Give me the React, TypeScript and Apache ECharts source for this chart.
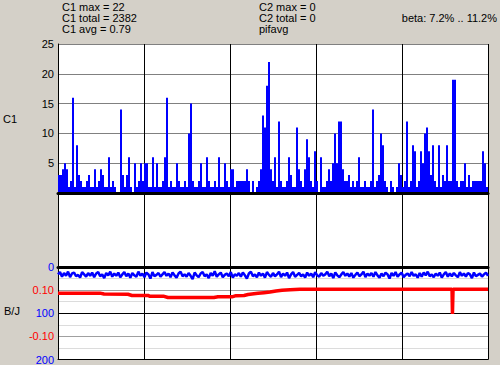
import React, { useEffect, useRef } from "react";
import * as echarts from "echarts";

// C1 counts, one value per 2-pixel bin (max of samples in the bin)
const c1Bins = [
  3, 3, 4, 5, 4, 1, 2, 16, 1, 8, 3, 2, 1, 1, 2, 3, 1, 1, 4, 1, 2, 4, 3, 1, 1, 6, 1, 2, 1, 0, 0, 14, 3, 1, 3, 6, 1, 0, 5, 1, 2, 5, 2, 5, 5, 1, 1, 6, 1, 5, 1,
  1, 2, 6, 16, 1, 2, 1, 1, 5, 2, 1, 1, 2, 1, 10, 15, 2, 1, 1, 2, 5, 1, 1, 6, 2, 1, 1, 2, 1, 6, 1, 1, 5, 2, 1,
  4, 4, 1, 2, 2, 2, 2, 2, 4, 2, 0, 2, 0, 1, 2, 4, 13, 11, 18, 22, 4, 2, 6, 1, 12, 2, 1, 1, 2, 6, 3, 1, 1, 11, 4, 2, 1, 4, 9, 6, 2, 1, 7, 2, 0, 6, 1, 1, 2, 4, 2, 5, 10, 5, 12, 12, 4, 2, 2, 3,
  1, 2, 1, 2, 6, 1, 1, 2, 1, 1, 2, 14, 1, 2, 3,
  10, 8, 2, 1, 0, 2, 1, 0, 1, 5, 3, 1, 2, 12, 1, 2, 8, 7, 1, 2, 7, 5, 10, 11, 7, 3, 8, 2, 1, 8, 1, 3, 2, 8, 2, 2, 19, 19, 2, 1, 2, 2, 5, 1, 3, 1, 2, 2, 2, 2, 2, 7, 5, 1,
];

// B (blue, 0..200 inverted scale)
const bjBlue = [
  16, 11, 21, 13, 19, 10, 22, 14, 12, 20,
  17, 23, 11, 16, 21, 13, 19, 12, 22, 14,
  11, 20, 16, 24, 13, 18, 10, 21, 14, 19,
  12, 22, 16, 11, 20, 14, 23, 13, 18, 21,
  10, 19, 14, 22, 12, 16, 25, 11, 20, 17,
  13, 21, 16, 11, 19, 14, 22, 12, 18, 23,
  14, 10, 20, 16, 21, 13, 19, 26, 12, 18,
  22, 14, 11, 20, 16, 24, 13, 19, 9, 21,
  16, 12, 22, 17, 14, 20, 11, 23, 16, 19,
  13, 21, 12, 18, 25, 14, 10, 20, 16, 22,
  12, 19, 14, 23, 11, 17, 21, 13, 20, 16,
  10, 22, 14, 19, 12, 24, 16, 11, 21, 17,
  13, 20, 16, 23, 12, 19, 14, 22, 11, 18,
  21, 13, 19, 16, 10, 20, 14, 24, 12, 18,
  22, 16, 11, 19, 14, 21, 13, 23, 17, 12,
  20, 16, 10, 22, 14, 19, 13, 21, 11, 18,
  23, 14, 20, 12, 16, 25, 13, 19, 11, 21,
  16, 12, 22, 17, 14, 20, 11, 19, 16, 23,
  13, 21, 12, 18, 10, 20, 16, 22, 14, 19,
  12, 23, 16, 11, 21, 14, 20, 13, 18, 22,
  11, 19, 14, 21, 13, 16, 24, 12, 20, 17,
  14, 21, 16, 12, 19,
];

// J (red, -0.2..0.2 scale): [sample index, value]
const bjRed = [
  [0, 0.087], [293, 0.087], [321, 0.083], [488, 0.082], [516, 0.077], [628, 0.077],
  [642, 0.073], [740, 0.073], [767, 0.068], [1088, 0.068], [1116, 0.071], [1214, 0.071],
  [1242, 0.076], [1298, 0.077], [1326, 0.081], [1353, 0.083], [1395, 0.086], [1437, 0.089],
  [1479, 0.092], [1521, 0.096], [1563, 0.099], [1619, 0.102], [1688, 0.104], [2442, 0.104],
  [2445, 0.107], [2448, 0.104], [2749, 0.104], [2752, -0.003], [2756, 0.104], [3000, 0.104],
];

const headerLeft = ["C1 max = 22", "C1 total = 2382", "C1 avg = 0.79"];
const headerMid = ["C2 max = 0", "C2 total = 0", "pifavg"];
const betaText = "beta: 7.2% .. 11.2%";

const FONT = "11px 'Liberation Sans', Arial, sans-serif";

export default function App() {
  const ref = useRef<HTMLDivElement>(null);
  useEffect(() => {
    if (!ref.current) return;
    const chart = echarts.init(ref.current, undefined, { renderer: "svg" });
    const cats = c1Bins.map((_, i) => String(i));
    const noAxis = {
      axisLine: { show: false },
      axisTick: { show: false },
      axisLabel: { show: false },
    };
    const vLines = { show: true, lineStyle: { color: "#000", width: 1 } };
    const texts: any[] = [];
    headerLeft.forEach((t, i) =>
      texts.push({ type: "text", left: 62, top: 1 + i * 11, style: { text: t, font: FONT, fill: "#000" } })
    );
    headerMid.forEach((t, i) =>
      texts.push({ type: "text", left: 259, top: 1 + i * 11, style: { text: t, font: FONT, fill: "#000" } })
    );
    texts.push({ type: "text", right: 3, top: 12, style: { text: betaText, font: FONT, fill: "#000" } });
    texts.push({ type: "text", left: 3, top: 113, style: { text: "C1", font: FONT, fill: "#000" } });
    texts.push({ type: "text", left: 4, top: 305, style: { text: "B/J", font: FONT, fill: "#000" } });

    chart.setOption({
      animation: false,
      backgroundColor: "#d4d0c8",
      textStyle: { fontFamily: "'Liberation Sans', Arial, sans-serif", fontSize: 11 },
      grid: [
        { left: 58, top: 44, width: 430, height: 149, show: true, backgroundColor: "#fff", borderWidth: 0 },
        { left: 58, top: 193, width: 430, height: 74, show: true, backgroundColor: "#fff", borderWidth: 0 },
        { left: 58, top: 267, width: 430, height: 93, show: true, backgroundColor: "#fff", borderWidth: 0 },
      ],
      xAxis: [
        {
          gridIndex: 0, type: "category", data: cats, position: "bottom", z: 5,
          axisLine: { onZero: false, lineStyle: { color: "#000", width: 3 } },
          axisTick: { show: false }, axisLabel: { show: false }, splitLine: { show: false },
        },
        { gridIndex: 0, type: "value", min: 0, max: 3000, interval: 600, position: "top", ...noAxis, splitLine: vLines },
        { gridIndex: 1, type: "value", min: 0, max: 3000, interval: 600, ...noAxis, splitLine: vLines },
        {
          gridIndex: 2, type: "category", data: cats, position: "top", boundaryGap: false, z: 5,
          axisLine: { onZero: false, lineStyle: { color: "#000", width: 3 } },
          axisTick: { show: false }, axisLabel: { show: false }, splitLine: { show: false },
        },
        {
          gridIndex: 2, type: "value", min: 0, max: 3000, interval: 600, position: "bottom",
          axisLine: { show: true, onZero: false, lineStyle: { color: "#000", width: 1 } },
          axisTick: { show: false }, axisLabel: { show: false }, splitLine: vLines,
        },
      ],
      yAxis: [
        {
          gridIndex: 0, type: "value", min: 0, max: 25, interval: 5,
          axisLine: { show: true, lineStyle: { color: "#000" } }, axisTick: { show: false },
          axisLabel: { showMinLabel: false, color: "#000", fontSize: 11, margin: 4 },
          splitLine: { show: true, lineStyle: { color: "#808080", width: 1 } },
        },
        { gridIndex: 1, type: "value", show: false },
        {
          gridIndex: 2, type: "value", min: 0, max: 200, interval: 100, inverse: true,
          axisLine: { show: false }, axisTick: { show: false },
          axisLabel: { color: "#0000ff", fontSize: 11, margin: 4 }, splitLine: { show: false },
        },
        {
          gridIndex: 2, type: "value", min: -0.2, max: 0.2, interval: 0.1, position: "left",
          axisLine: { show: false }, axisTick: { show: false },
          axisLabel: {
            color: "#ff0000", fontSize: 11, margin: 4,
            formatter: (v: number) => (Math.abs(Math.abs(v) - 0.1) < 1e-6 ? v.toFixed(2) : ""),
          },
          splitLine: { show: true, lineStyle: { color: ["#000", "#a0a0a0", "#000", "#a0a0a0", "#000"], width: 1 } },
          minorTick: { show: false, splitNumber: 2 },
          minorSplitLine: { show: true, lineStyle: { color: "#dcdcdc", width: 1 } },
        },
      ],
      series: [
        {
          type: "bar", xAxisIndex: 0, yAxisIndex: 0, data: c1Bins, barCategoryGap: "0%",
          itemStyle: { color: "#0000ff" }, silent: true,
        },
        {
          type: "line", xAxisIndex: 3, yAxisIndex: 2, data: bjBlue, symbol: "none", silent: true,
          lineStyle: { color: "#0000ff", width: 2.5 },
        },
        {
          type: "line", xAxisIndex: 4, yAxisIndex: 3, data: bjRed, symbol: "none", silent: true,
          lineStyle: { color: "#ff0000", width: 3.5 },
        },
      ],
      graphic: texts,
    });
    return () => chart.dispose();
  }, []);
  return <div ref={ref} style={{ position: "fixed", left: 0, top: 0, width: 500, height: 365 }} />;
}
